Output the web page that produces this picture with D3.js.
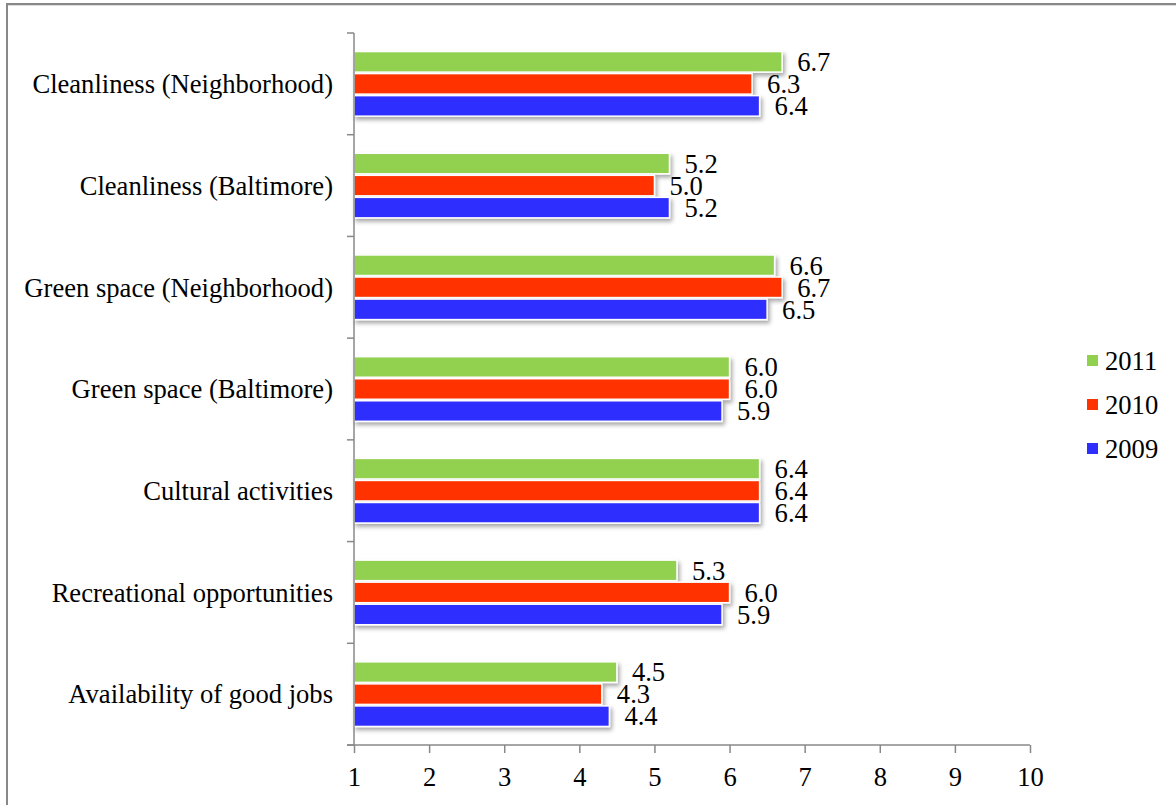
<!DOCTYPE html>
<html><head><meta charset="utf-8">
<script src="https://cdn.jsdelivr.net/npm/d3@7"></script>
<style>
body{margin:0;background:#fff;}
svg{display:block;}
text{font-family:"Liberation Serif","Times New Roman",serif;fill:#000;}
</style></head>
<body>
<svg id="chart" width="1176" height="805"></svg>
<script>
const categories = ["Cleanliness (Neighborhood)","Cleanliness (Baltimore)","Green space (Neighborhood)","Green space (Baltimore)","Cultural activities","Recreational opportunities","Availability of good jobs"];
const seriesNames = ["2011","2010","2009"];
const values2011 = [6.7,5.2,6.6,6.0,6.4,5.3,4.5];
const values2010 = [6.3,5.0,6.7,6.0,6.4,6.0,4.3];
const values2009 = [6.4,5.2,6.5,5.9,6.4,5.9,4.4];
const xTicks = [1,2,3,4,5,6,7,8,9,10];
const colors = ["#92D050","#FF3300","#2E2EFF"];

const seriesValues = [values2011, values2010, values2009];
const svg = d3.select("#chart");
const FS = 26.6;

// outer frame
svg.append("line").attr("x1",7).attr("x2",1176).attr("y1",4).attr("y2",4).attr("stroke","#888").attr("stroke-width",2);
svg.append("line").attr("x1",7).attr("x2",1176).attr("y1",5.5).attr("y2",5.5).attr("stroke","#ddd").attr("stroke-width",1);
svg.append("line").attr("x1",7).attr("x2",7).attr("y1",3).attr("y2",805).attr("stroke","#888").attr("stroke-width",2);

const defs = svg.append("defs");
const f = defs.append("filter").attr("id","sh").attr("x","-5%").attr("y","-20%").attr("width","115%").attr("height","160%");
f.append("feDropShadow").attr("dx",2).attr("dy",3).attr("stdDeviation",2).attr("flood-color","#000").attr("flood-opacity",0.35);

const x = d3.scaleLinear().domain([1,10]).range([354,1030]);
const y = d3.scaleBand().domain(categories).range([33,745]).paddingInner(0.35).paddingOuter(0.175);
const ys = d3.scaleBand().domain(seriesNames).range([0, y.bandwidth()]).padding(0);

// bars
const groups = svg.append("g").selectAll("g").data(categories).join("g")
  .attr("transform", c => `translate(0,${y(c)})`);
seriesNames.forEach((s, si) => {
  groups.append("rect")
    .attr("x", x(1))
    .attr("y", ys(s) + 0.75)
    .attr("width", (c, i) => x(seriesValues[si][i]) - x(1))
    .attr("height", ys.bandwidth() - 1.5)
    .attr("fill", colors[si])
    .attr("stroke", "#fff").attr("stroke-width", 1.5)
    .attr("filter", "url(#sh)");
});
seriesNames.forEach((s, si) => {
  groups.append("text")
    .attr("x", (c, i) => x(seriesValues[si][i]) + 15)
    .attr("y", ys(s) + ys.bandwidth()/2)
    .attr("dy", "0.35em")
    .attr("font-size", FS)
    .text((c, i) => seriesValues[si][i].toFixed(1));
});

// x axis
const xAxis = d3.axisBottom(x).tickValues(xTicks).tickSize(8).tickPadding(14).tickSizeOuter(0).tickFormat(d3.format("d"));
const gx = svg.append("g").attr("transform","translate(0,745)").call(xAxis);
gx.select(".domain").attr("stroke","#888").attr("stroke-width",1.5).attr("d","M347,0H1030");
gx.selectAll(".tick line").attr("stroke","#888").attr("stroke-width",1.5);
gx.selectAll(".tick text").attr("font-size",FS).attr("font-family","Liberation Serif, serif").attr("fill","#000");

// y axis
const gy = svg.append("g");
gy.append("line").attr("x1",x(1)).attr("x2",x(1)).attr("y1",33).attr("y2",745).attr("stroke","#888").attr("stroke-width",1.5);
const bounds = categories.map(c => y(c) - y.step()*y.paddingInner()/2).concat([745]);
bounds[0] = 33;
gy.selectAll("line.tk").data(bounds).join("line").attr("class","tk")
  .attr("x1", x(1)-7).attr("x2", x(1)).attr("y1", d=>d).attr("y2", d=>d)
  .attr("stroke","#888").attr("stroke-width",1.5);
gy.selectAll("text").data(categories).join("text")
  .attr("x", 333).attr("y", c => y(c) + y.bandwidth()/2).attr("dy","0.35em")
  .attr("text-anchor","end").attr("font-size",FS).text(c => c);

// legend
const lg = svg.append("g");
seriesNames.forEach((s, i) => {
  const cy = 361 + i*44;
  lg.append("rect").attr("x",1087).attr("y",cy-6).attr("width",11).attr("height",11).attr("fill",colors[i]);
  lg.append("text").attr("x",1105).attr("y",cy).attr("dy","0.35em").attr("font-size",FS).text(s);
});
</script>
</body></html>
